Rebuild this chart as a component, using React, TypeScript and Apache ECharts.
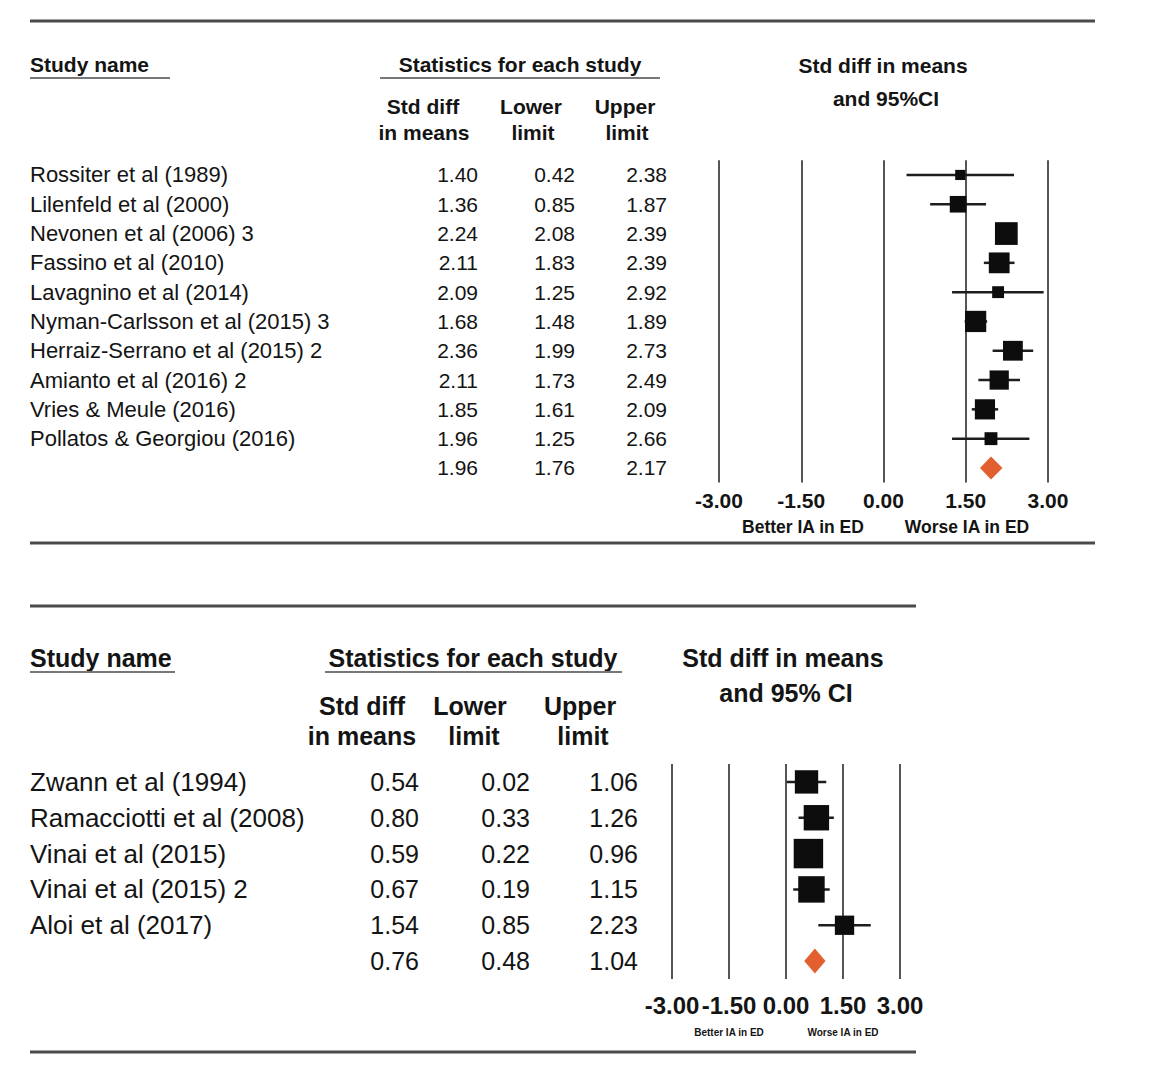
import React, { useEffect, useRef } from "react";
import * as echarts from "echarts";

// ---------- Data ----------
const topStudies = [
  "Rossiter et al (1989)",
  "Lilenfeld et al (2000)",
  "Nevonen et al (2006) 3",
  "Fassino et al (2010)",
  "Lavagnino et al (2014)",
  "Nyman-Carlsson et al (2015) 3",
  "Herraiz-Serrano et al (2015) 2",
  "Amianto et al (2016) 2",
  "Vries & Meule (2016)",
  "Pollatos & Georgiou (2016)",
  "",
];
const topEst = [1.40, 1.36, 2.24, 2.11, 2.09, 1.68, 2.36, 2.11, 1.85, 1.96, 1.96];
const topLower = [0.42, 0.85, 2.08, 1.83, 1.25, 1.48, 1.99, 1.73, 1.61, 1.25, 1.76];
const topUpper = [2.38, 1.87, 2.39, 2.39, 2.92, 1.89, 2.73, 2.49, 2.09, 2.66, 2.17];
const topWeights = [3.3, 8.8, 16.5, 13.8, 4.5, 14.4, 12.5, 11.8, 13.0, 5.3, 0];
const topSummary = [false, false, false, false, false, false, false, false, false, false, true];

const botStudies = [
  "Zwann et al (1994)",
  "Ramacciotti et al (2008)",
  "Vinai et al (2015)",
  "Vinai et al (2015) 2",
  "Aloi et al (2017)",
  "",
];
const botEst = [0.54, 0.80, 0.59, 0.67, 1.54, 0.76];
const botLower = [0.02, 0.33, 0.22, 0.19, 0.85, 0.48];
const botUpper = [1.06, 1.26, 0.96, 1.15, 2.23, 1.04];
const botWeights = [17.4, 20.6, 27.7, 22.3, 11.9, 0];
const botSummary = [false, false, false, false, false, true];

const xMin = -3;
const xMax = 3;
const xStep = 1.5;

const FONT = "Liberation Sans, Arial, Helvetica, sans-serif";
const INK = "#141414";

export default function App() {
  const ref = useRef<HTMLDivElement>(null);

  useEffect(() => {
    const chart = echarts.init(ref.current!, null, { renderer: "svg" });

    const panels = [
      {
        names: topStudies, est: topEst, lo: topLower, hi: topUpper, w: topWeights, summ: topSummary,
        grid: { left: 719, top: 160.3, width: 329, height: 322.3 },
        nameX: 30, colX: [478, 575, 667], nameFont: 22, font: 21, tickFont: 21, tickMargin: 7, diamondH: 23,
      },
      {
        names: botStudies, est: botEst, lo: botLower, hi: botUpper, w: botWeights, summ: botSummary,
        grid: { left: 672, top: 764, width: 228, height: 215 },
        nameX: 30, colX: [419, 530, 638], nameFont: 26, font: 25, tickFont: 24, tickMargin: 14, diamondH: 25,
      },
    ];

    const grids: any[] = [];
    const xAxes: any[] = [];
    const yAxes: any[] = [];
    const series: any[] = [];

    panels.forEach((p, pi) => {
      grids.push({ left: p.grid.left, top: p.grid.top, width: p.grid.width, height: p.grid.height, containLabel: false });
      xAxes.push({
        type: "value", gridIndex: pi, min: xMin, max: xMax, interval: xStep,
        axisLine: { show: false }, axisTick: { show: false },
        splitLine: { show: true, lineStyle: { color: "#555", width: 2 } },
        axisLabel: {
          margin: p.tickMargin, color: INK, fontFamily: FONT, fontWeight: "bold", fontSize: p.tickFont,
          formatter: (v: number) => v.toFixed(2),
        },
      });
      const rowIds = p.names.map((_, i) => String(i));
      const base = yAxes.length;
      // names column
      yAxes.push({
        type: "category", gridIndex: pi, data: rowIds, inverse: true, position: "left",
        offset: p.grid.left - p.nameX,
        axisLine: { show: false }, axisTick: { show: false }, splitLine: { show: false },
        axisLabel: {
          interval: 0, margin: 0, align: "left", color: INK, fontFamily: FONT, fontSize: p.nameFont,
          formatter: (_v: string, i: number) => p.names[i],
        },
      });
      const cols = [p.est, p.lo, p.hi];
      cols.forEach((col, ci) => {
        yAxes.push({
          type: "category", gridIndex: pi, data: rowIds, inverse: true, position: "left",
          offset: p.grid.left - p.colX[ci],
          axisLine: { show: false }, axisTick: { show: false }, splitLine: { show: false },
          axisLabel: {
            interval: 0, margin: 0, align: "right", color: INK, fontFamily: FONT, fontSize: p.font,
            formatter: (_v: string, i: number) => col[i].toFixed(2),
          },
        });
      });
      const dh = p.diamondH;
      series.push({
        type: "custom", xAxisIndex: pi, yAxisIndex: base, clip: false,
        encode: { x: [0, 1, 2], y: 3 },
        data: p.est.map((e, i) => [e, p.lo[i], p.hi[i], i, p.w[i], p.summ[i] ? 1 : 0]),
        renderItem: (_params: any, api: any) => {
          const est = api.value(0), lo = api.value(1), hi = api.value(2), row = api.value(3);
          const wt = api.value(4), isSum = api.value(5);
          const c = api.coord([est, row]);
          const a = api.coord([lo, row]);
          const b = api.coord([hi, row]);
          if (isSum) {
            return {
              type: "polygon",
              shape: { points: [[a[0], c[1]], [c[0], c[1] - dh / 2], [b[0], c[1]], [c[0], c[1] + dh / 2]] },
              style: { fill: "#E2602F" },
            };
          }
          const s = 5.6 * Math.sqrt(wt);
          return {
            type: "group",
            children: [
              { type: "line", shape: { x1: a[0], y1: c[1], x2: b[0], y2: c[1] }, style: { stroke: "#1e1e1e", lineWidth: 2.5 } },
              { type: "rect", shape: { x: c[0] - s / 2, y: c[1] - s / 2, width: s, height: s }, style: { fill: "#0d0d0d" } },
            ],
          };
        },
      });
    });

    const txt = (text: string, x: number, y: number, size: number, align = "center", bold = true) => ({
      type: "text", x, y, silent: true,
      style: {
        text, fill: INK, font: `${bold ? "bold " : ""}${size}px ${FONT}`,
        textAlign: align, textVerticalAlign: "middle",
      },
    });
    const hline = (x1: number, x2: number, y: number, w: number, color = "#555") => ({
      type: "line", silent: true, shape: { x1, y1: y, x2, y2: y }, style: { stroke: color, lineWidth: w },
    });

    const graphic = [
      // top panel
      hline(30, 1095, 21, 3, "#4a4a4a"),
      hline(30, 1095, 543, 3, "#4a4a4a"),
      txt("Study name", 30, 64, 21, "left"),
      hline(30, 170, 78, 2, "#777"),
      txt("Statistics for each study", 520, 64, 21),
      hline(380, 660, 78, 2, "#777"),
      txt("Std diff", 423, 106, 21),
      txt("in means", 424, 132, 21),
      txt("Lower", 531, 106, 21),
      txt("limit", 533, 132, 21),
      txt("Upper", 625, 106, 21),
      txt("limit", 627, 132, 21),
      txt("Std diff in means", 883, 65, 21),
      txt("and 95%CI", 886, 98, 21),
      txt("Better IA in ED", 803, 527, 17.5),
      txt("Worse IA in ED", 967, 527, 17.5),
      // bottom panel
      hline(30, 916, 606, 3, "#4a4a4a"),
      hline(30, 916, 1052, 3, "#4a4a4a"),
      txt("Study name", 30, 658, 25, "left"),
      hline(30, 175, 672, 2, "#777"),
      txt("Statistics for each study", 473, 658, 25),
      hline(325, 622, 672, 2, "#777"),
      txt("Std diff", 362, 706, 25),
      txt("in means", 362, 736, 25),
      txt("Lower", 470, 706, 25),
      txt("limit", 474, 736, 25),
      txt("Upper", 580, 706, 25),
      txt("limit", 583, 736, 25),
      txt("Std diff in means", 783, 658, 25),
      txt("and 95% CI", 786, 693, 25),
      txt("Better IA in ED", 729, 1032, 10),
      txt("Worse IA in ED", 843, 1032, 10),
    ];

    chart.setOption({
      animation: false,
      backgroundColor: "#ffffff",
      grid: grids,
      xAxis: xAxes,
      yAxis: yAxes,
      series,
      graphic,
    });

    return () => chart.dispose();
  }, []);

  return (
    <div
      ref={ref}
      style={{ position: "absolute", left: 0, top: 0, width: 1158, height: 1086, background: "#fff" }}
    />
  );
}
